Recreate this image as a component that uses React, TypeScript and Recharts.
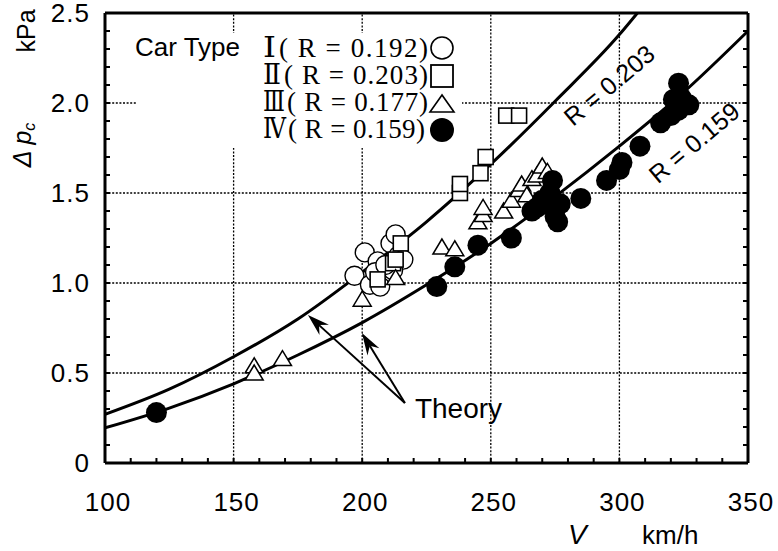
import React from 'react';
import {
  ComposedChart,
  Line,
  Scatter,
  XAxis,
  YAxis,
  ReferenceLine,
  ReferenceDot,
} from 'recharts';

// ── Axis ticks ───────────────────────────────────────────────────────────
const X_MAJOR = [100, 150, 200, 250, 300, 350];
const X_MINOR = [
  100, 110, 120, 130, 140, 150, 160, 170, 180, 190, 200, 210, 220, 230, 240, 250, 260,
  270, 280, 290, 300, 310, 320, 330, 340, 350,
];
const Y_MAJOR = [0, 0.5, 1, 1.5, 2, 2.5];
const Y_MINOR = [
  0, 0.1, 0.2, 0.3, 0.4, 0.5, 0.6, 0.7, 0.8, 0.9, 1, 1.1, 1.2, 1.3, 1.4, 1.5, 1.6, 1.7,
  1.8, 1.9, 2, 2.1, 2.2, 2.3, 2.4, 2.5,
];
const GRID_X = [150, 200, 250, 300];
const GRID_Y = [0.5, 1, 1.5, 2];

// ── Measured data: [V km/h, Δp kPa] ──────────────────────────────────────
const TYPE_I: [number, number][] = [
  [197, 1.04], [201, 1.17], [203, 0.99], [206, 1.12], [205, 1.06], [207, 0.98],
  [211, 1.22], [213, 1.27], [214, 1.15], [216, 1.13], [212, 1.07], [209, 1.1],
];
const TYPE_II: [number, number][] = [
  [206, 1.02], [212, 1.11], [213, 1.13], [215, 1.22], [238, 1.5], [238, 1.55],
  [246, 1.61], [248, 1.7], [256, 1.93], [261, 1.93],
];
const TYPE_III: [number, number][] = [
  [158, 0.54], [158, 0.5], [169, 0.58], [200, 0.91], [213, 1.03], [231, 1.2],
  [236, 1.19], [245, 1.34], [247, 1.38], [247, 1.42], [255, 1.4], [258, 1.46],
  [261, 1.52], [262, 1.55], [264, 1.49], [266, 1.58], [268, 1.6], [270, 1.65], [272, 1.62],
];
const TYPE_IV: [number, number][] = [
  [120, 0.28], [229, 0.98], [236, 1.09], [245, 1.21], [258, 1.25], [266, 1.4],
  [268, 1.42], [270, 1.46], [272, 1.44], [273, 1.5], [274, 1.57], [275, 1.37],
  [276, 1.34], [277, 1.44], [285, 1.47], [295, 1.57], [300, 1.63], [301, 1.67],
  [308, 1.76], [316, 1.89], [320, 1.93], [321, 2.02], [323, 2.11], [323, 1.96],
  [324, 2.03], [327, 1.99],
];

// ── Theory curves ────────────────────────────────────────────────────────
const THEORY_203: [number, number][] = [
  [100, 0.27], [125, 0.41], [150, 0.59], [175, 0.8], [200, 1.06], [225, 1.34],
  [250, 1.66], [275, 2.01], [300, 2.38], [307, 2.5],
];
const THEORY_159: [number, number][] = [
  [100, 0.195], [125, 0.305], [150, 0.44], [175, 0.6], [200, 0.78], [225, 0.99],
  [250, 1.22], [275, 1.48], [300, 1.76], [325, 2.06], [350, 2.4],
];

const LEGEND_NUMS = ['Ⅰ', 'Ⅱ', 'Ⅲ', 'Ⅳ'];
const LEGEND_TEXT = ['( R = 0.192)', '( R = 0.203)', '( R = 0.177)', '( R = 0.159)'];

const toPts = (arr: [number, number][]) => arr.map(([v, p]) => ({ v, p }));

const SANS = "'Liberation Sans', Arial, Helvetica, sans-serif";
const SERIF = "'Liberation Serif', 'Times New Roman', serif";
const ROMAN = "'DejaVu Serif', 'Noto Sans CJK JP', serif";

const isMajor = (list: number[], v: number) => list.some((m) => Math.abs(m - v) < 1e-6);

// ── Tick renderers (inward ticks like the original frame) ────────────────
const BottomTick = (props: any) => {
  const { x, y, payload } = props;
  const v = payload.value;
  return (
    <g>
      <line x1={x} x2={x} y1={y} y2={y - 5} stroke="#000" strokeWidth={2} />
      {isMajor(X_MAJOR, v) && (
        <text x={x + 3} y={y + 48} textAnchor="middle" fontSize={26} fontFamily={SANS} letterSpacing={1} fill="#000">
          {v}
        </text>
      )}
    </g>
  );
};

const TopTick = (props: any) => {
  const { x, y } = props;
  return <line x1={x} x2={x} y1={y} y2={y + 5} stroke="#000" strokeWidth={2} />;
};

const LeftTick = (props: any) => {
  const { x, y, payload } = props;
  const v = payload.value;
  return (
    <g>
      <line x1={x} x2={x + 5} y1={y} y2={y} stroke="#000" strokeWidth={2} />
      {isMajor(Y_MAJOR, v) && (
        <text x={x - 15} y={y + 9} textAnchor="end" fontSize={26} fontFamily={SANS} letterSpacing={1} fill="#000">
          {v === 0 ? '0' : v.toFixed(1)}
        </text>
      )}
    </g>
  );
};

const RightTick = (props: any) => {
  const { x, y } = props;
  return <line x1={x} x2={x - 5} y1={y} y2={y} stroke="#000" strokeWidth={2} />;
};

// ── Marker shapes ────────────────────────────────────────────────────────
const OpenCircle = (p: any) => (
  <circle cx={p.cx} cy={p.cy} r={9.5} fill="#fff" stroke="#000" strokeWidth={1.4} />
);
const OpenSquare = (p: any) => (
  <rect x={p.cx - 7.5} y={p.cy - 7.5} width={15} height={15} fill="#fff" stroke="#000" strokeWidth={1.6} />
);
const OpenTriangle = (p: any) => (
  <polygon
    points={`${p.cx},${p.cy - 8} ${p.cx - 9},${p.cy + 7} ${p.cx + 9},${p.cy + 7}`}
    fill="#fff"
    stroke="#000"
    strokeWidth={1.5}
  />
);
const FilledDot = (p: any) => <circle cx={p.cx} cy={p.cy} r={10.5} fill="#000" />;

// arrow from segment start to tip (segment end)
const ArrowShape = (p: any) => {
  const { x1, y1, x2, y2 } = p;
  const dx = x2 - x1;
  const dy = y2 - y1;
  const len = Math.hypot(dx, dy) || 1;
  const ux = dx / len;
  const uy = dy / len;
  const nx = -uy;
  const ny = ux;
  const L = 22;
  const W = 7;
  const N = 15;
  const bx = x2 - ux * L;
  const by = y2 - uy * L;
  const pts = `${x2},${y2} ${bx + nx * W},${by + ny * W} ${x2 - ux * N},${y2 - uy * N} ${bx - nx * W},${by - ny * W}`;
  return (
    <g>
      <line x1={x1} y1={y1} x2={x2 - ux * N} y2={y2 - uy * N} stroke="#000" strokeWidth={2} />
      <polygon points={pts} fill="#000" />
    </g>
  );
};

const rotatedLabel = (text: string) => (p: any) => (
  <text
    x={p.cx}
    y={p.cy}
    transform={`rotate(-40 ${p.cx} ${p.cy})`}
    textAnchor="middle"
    dominantBaseline="central"
    fontSize={25}
    fontFamily={SANS}
    fill="#000"
  >
    {text}
  </text>
);

const TheoryLabel = (p: any) => (
  <text x={p.cx} y={p.cy} fontSize={28} fontFamily={SANS} fill="#000">
    Theory
  </text>
);

export default function App() {
  const legendBase = [57, 84, 111, 138];
  const numWidth = [13, 18, 22, 23];
  const parenStart = [279, 284, 287, 288];
  const parenEnd = [428, 428, 428, 425];

  return (
    <div style={{ position: 'absolute', left: 0, top: 0, width: 778, height: 551, background: '#fff' }}>
      <ComposedChart width={778} height={551} margin={{ top: 12, right: 29, bottom: 48, left: 104 }}>
        <XAxis
          dataKey="v"
          type="number"
          domain={[100, 350]}
          allowDataOverflow
          ticks={X_MINOR}
          interval={0}
          height={40}
          tickSize={0}
          tickMargin={0}
          tickLine={false}
          tick={BottomTick}
          axisLine={{ stroke: '#000', strokeWidth: 3 }}
        />
        <XAxis
          xAxisId="top"
          orientation="top"
          type="number"
          domain={[100, 350]}
          allowDataOverflow
          ticks={X_MINOR}
          interval={0}
          height={1}
          tickSize={0}
          tickMargin={0}
          tickLine={false}
          tick={TopTick}
          axisLine={{ stroke: '#000', strokeWidth: 3 }}
        />
        <YAxis
          dataKey="p"
          type="number"
          domain={[0, 2.5]}
          allowDataOverflow
          ticks={Y_MINOR}
          interval={0}
          width={1}
          tickSize={0}
          tickMargin={0}
          tickLine={false}
          tick={LeftTick}
          axisLine={{ stroke: '#000', strokeWidth: 3 }}
        />
        <YAxis
          yAxisId="right"
          orientation="right"
          type="number"
          domain={[0, 2.5]}
          allowDataOverflow
          ticks={Y_MINOR}
          interval={0}
          width={1}
          tickSize={0}
          tickMargin={0}
          tickLine={false}
          tick={RightTick}
          axisLine={{ stroke: '#000', strokeWidth: 3 }}
        />

        {GRID_X.map((g) => (
          <ReferenceLine key={`gx${g}`} x={g} stroke="#000" strokeWidth={1.3} strokeDasharray="2 1.6" />
        ))}
        {GRID_Y.map((g) => (
          <ReferenceLine key={`gy${g}`} y={g} stroke="#000" strokeWidth={1.3} strokeDasharray="2 1.6" />
        ))}

        <Line data={toPts(THEORY_203)} dataKey="p" type="monotone" stroke="#000" strokeWidth={3} dot={false} isAnimationActive={false} />
        <Line data={toPts(THEORY_159)} dataKey="p" type="monotone" stroke="#000" strokeWidth={3} dot={false} isAnimationActive={false} />

        <Scatter data={toPts(TYPE_I)} dataKey="p" shape={OpenCircle} isAnimationActive={false} />
        <Scatter data={toPts(TYPE_II)} dataKey="p" shape={OpenSquare} isAnimationActive={false} />
        <Scatter data={toPts(TYPE_III)} dataKey="p" shape={OpenTriangle} isAnimationActive={false} />
        <Scatter data={toPts(TYPE_IV)} dataKey="p" shape={FilledDot} isAnimationActive={false} />

        <ReferenceLine segment={[{ x: 216.6, y: 0.333 }, { x: 178.9, y: 0.822 }]} shape={ArrowShape} />
        <ReferenceLine segment={[{ x: 216.6, y: 0.333 }, { x: 199.9, y: 0.722 }]} shape={ArrowShape} />

        <ReferenceDot x={220.5} y={0.25} r={0} shape={TheoryLabel} />
        <ReferenceDot x={296} y={2.1} r={0} shape={rotatedLabel('R = 0.203')} />
        <ReferenceDot x={329} y={1.78} r={0} shape={rotatedLabel('R = 0.159')} />
      </ComposedChart>

      <svg
        width={778}
        height={551}
        style={{ position: 'absolute', left: 0, top: 0, pointerEvents: 'none' }}
      >
        {/* legend panel hides grid lines behind it */}
        <rect x={137} y={33} width={325} height={115} fill="#fff" />
        <text x={135} y={56} fontSize={26} fontFamily={SANS} fill="#000">
          Car Type
        </text>
        {LEGEND_NUMS.map((n, i) => (
          <g key={n}>
            <text
              x={263}
              y={legendBase[i]}
              fontSize={27}
              fontFamily={ROMAN}
              textLength={numWidth[i]}
              lengthAdjust="spacingAndGlyphs"
              fill="#000"
            >
              {n}
            </text>
            <text
              x={parenStart[i]}
              y={legendBase[i]}
              fontSize={27}
              fontFamily={SERIF}
              textLength={parenEnd[i] - parenStart[i]}
              lengthAdjust="spacing"
              fill="#000"
            >
              {LEGEND_TEXT[i]}
            </text>
          </g>
        ))}
        <circle cx={442} cy={48} r={11} fill="#fff" stroke="#000" strokeWidth={1.6} />
        <rect x={431} y={65} width={22} height={22} fill="#fff" stroke="#000" strokeWidth={1.8} />
        <polygon points="442,95 430,112 454,112" fill="#fff" stroke="#000" strokeWidth={1.6} />
        <circle cx={442} cy={130} r={12} fill="#000" />

        {/* axis titles */}
        <text x={35} y={31} transform="rotate(-90 35 31)" textAnchor="middle" fontSize={25} fontFamily={SANS} fill="#000">
          kPa
        </text>
        <text x={31} y={145} transform="rotate(-90 31 145)" textAnchor="middle" fontSize={25} fontFamily={SANS} fontStyle="italic" fill="#000">
          Δ p
          <tspan fontSize={16} dy={4}>c</tspan>
        </text>
        <text x={568} y={544} fontSize={28} fontFamily={SANS} fontStyle="italic" fill="#000">
          V
        </text>
        <text x={642} y={544} fontSize={26} fontFamily={SANS} fill="#000">
          km/h
        </text>
      </svg>
    </div>
  );
}
